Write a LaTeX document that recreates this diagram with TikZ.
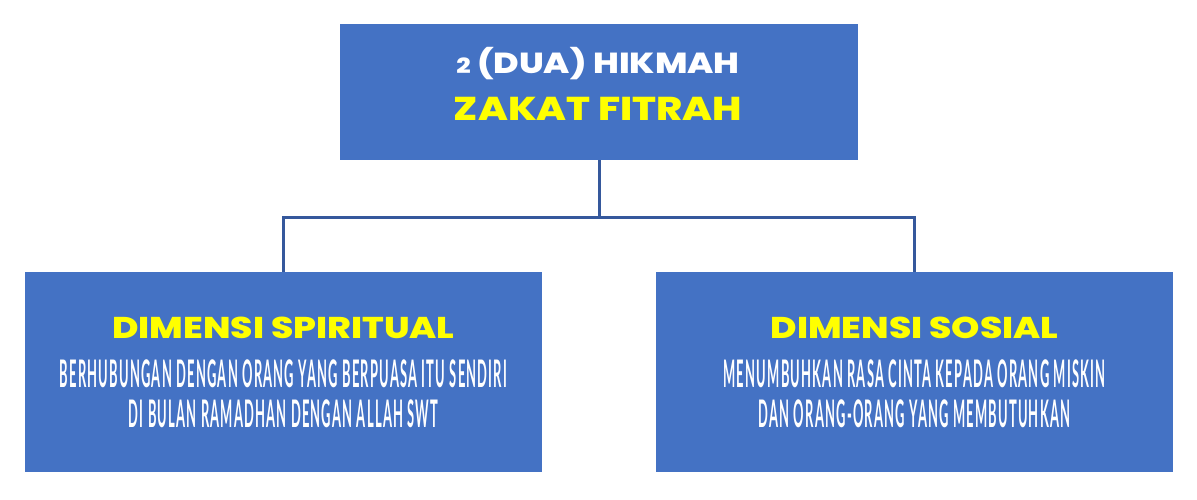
\documentclass[tikz,border=0pt]{standalone}
\usepackage{fontspec}
\usepackage{xcolor}
\newfontfamily\headfont[FakeStretch=1.2, BoldFont={Poppins ExtraBold}]{Poppins}
\newfontfamily\subfont[FakeStretch=0.34, LetterSpace=3.2]{Lato}
\definecolor{boxblue}{HTML}{4472C4}
\definecolor{lineblue}{HTML}{35589C}
\definecolor{headyellow}{HTML}{FFFF00}

\begin{document}
\begin{tikzpicture}[x=1pt,y=-1pt,
  hikmahbox/.style={fill=boxblue, draw=none, inner sep=0pt},
  headtext/.style={anchor=base, inner sep=0pt, font=\headfont\bfseries\fontsize{33}{33}\selectfont},
  subtext/.style={anchor=base, inner sep=0pt, text=white, font=\subfont\bfseries\fontsize{38}{38}\selectfont},
  branch/.style={draw=lineblue, line width=3pt}]

\useasboundingbox (0,0) rectangle (1197,500);

% Boxes
\node[hikmahbox, minimum width=518pt, minimum height=136pt] (top) at (599,92) {};
\node[hikmahbox, minimum width=517pt, minimum height=200pt] (spiritual) at (283.5,372) {};
\node[hikmahbox, minimum width=517pt, minimum height=200pt] (sosial) at (914.5,372) {};

% Connectors
\coordinate (split) at (599,217);
\draw[branch] (top.south) -- (split);
\draw[branch] (split) -| (spiritual.north);
\draw[branch] (split) -| (sosial.north);

% Title
\node[headtext, text=white, font=\headfont\bfseries\fontsize{29}{29}\selectfont] (title1) at (598,74)
  {{\fontsize{21}{21}\selectfont 2} (DUA) HIKMAH};
\node[headtext, text=headyellow] (title2) at (598,121) {ZAKAT FITRAH};

% Left box
\node[headtext, text=headyellow, font=\headfont\bfseries\fontsize{30}{30}\selectfont] (spiritualhead) at (283.5,338) {DIMENSI SPIRITUAL};
\node[subtext] (spirituala) at (283.5,387) {BERHUBUNGAN DENGAN ORANG YANG BERPUASA ITU SENDIRI};
\node[subtext] (spiritualb) at (283.5,427) {DI BULAN RAMADHAN DENGAN ALLAH SWT};

% Right box
\node[headtext, text=headyellow, font=\headfont\bfseries\fontsize{30}{30}\selectfont] (sosialhead) at (914.5,338) {DIMENSI SOSIAL};
\node[subtext] (sosiala) at (914.5,387) {MENUMBUHKAN RASA CINTA KEPADA ORANG MISKIN};
\node[subtext] (sosialb) at (914.5,427) {DAN ORANG-ORANG YANG MEMBUTUHKAN};

\end{tikzpicture}
\end{document}
